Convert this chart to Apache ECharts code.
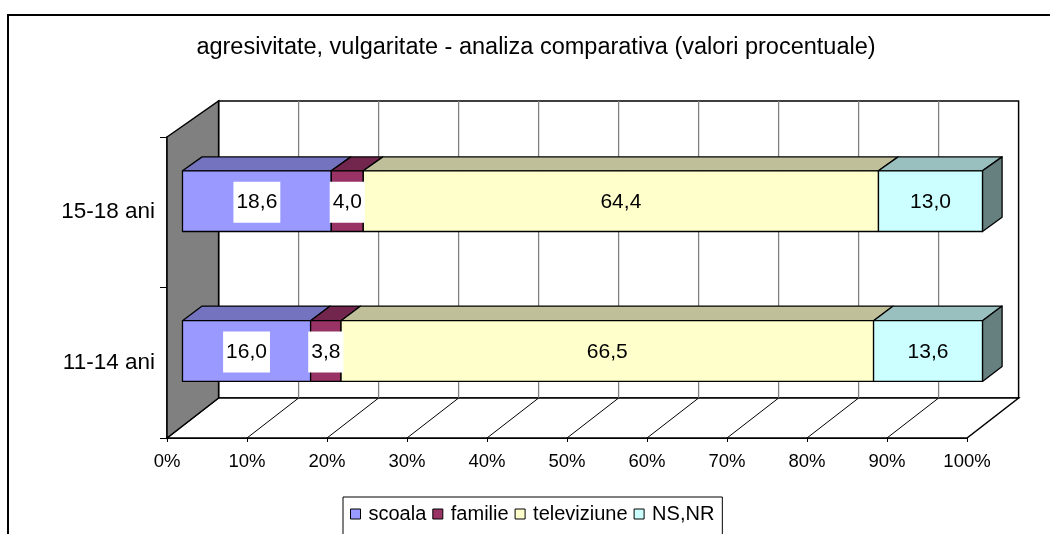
<!DOCTYPE html>
<html><head><meta charset="utf-8">
<script src="https://cdn.jsdelivr.net/npm/echarts@6/dist/echarts.min.js"></script>
<style>html,body{margin:0;padding:0;background:#fff}#c{width:1050px;height:534px}</style>
</head><body><div id="c"></div>
<script>
// ---- data ----
const categories = ['11-14 ani', '15-18 ani'];
const seriesNames = ['scoala', 'familie', 'televiziune', 'NS,NR'];
const scoala = [16.0, 18.6];
const familie = [3.8, 4.0];
const televiziune = [66.5, 64.4];
const nsnr = [13.6, 13.0];
const xTicks = [0, 10, 20, 30, 40, 50, 60, 70, 80, 90, 100];
const titleText = 'agresivitate, vulgaritate - analiza comparativa (valori procentuale)';

// ---- styles ----
const values = [scoala, familie, televiziune, nsnr];
const frontColors = ['#9999FF', '#993366', '#FFFFCC', '#CCFFFF'];
const topColors = ['#7373BF', '#73264D', '#BFBF99', '#99BFBF'];
const sideColors = ['#4D4D80', '#4D1A33', '#808066', '#668080'];
const labelBg = [true, true, false, false];
const FONT = "'Liberation Sans', Arial, sans-serif";
const DX = 51.6, DY_TOP = -36, DY_BOT = -40;
const T0 = 0.30, T1 = 0.68, BAR_FRAC = 0.405;

function projector(params, api) {
  const cs = params.coordSys;
  const top = cs.y, bot = cs.y + cs.height;
  const topB = top + DY_TOP, botB = bot + DY_BOT;
  return function (xv, yPix, t) {
    const x = api.coord([xv, 0])[0];
    const yBack = topB + (yPix - top) * (botB - topB) / (bot - top);
    return [x + DX * t, yPix + (yBack - yPix) * t];
  };
}

function renderFrame(params, api) {
  const P = projector(params, api);
  const cs = params.coordSys;
  const top = cs.y, bot = cs.y + cs.height;
  const xMin = xTicks[0], xMax = xTicks[xTicks.length - 1];
  const children = [];
  children.push({ type: 'polygon', shape: { points: [P(xMin, top, 1), P(xMax, top, 1), P(xMax, bot, 1), P(xMin, bot, 1)] },
    style: { fill: '#fff', stroke: '#000', lineWidth: 1.5 } });
  children.push({ type: 'polygon', shape: { points: [P(xMin, bot, 0), P(xMax, bot, 0), P(xMax, bot, 1), P(xMin, bot, 1)] },
    style: { fill: '#fff', stroke: '#000', lineWidth: 1.5 } });
  xTicks.forEach(function (v, i) {
    if (i === 0 || i === xTicks.length - 1) return;
    const a = P(v, top, 1), b = P(v, bot, 1);
    children.push({ type: 'line', shape: { x1: a[0], y1: a[1], x2: b[0], y2: b[1] }, style: { stroke: '#808080', lineWidth: 1.3 } });
    const c = P(v, bot, 0), d = P(v, bot, 1);
    children.push({ type: 'line', shape: { x1: c[0], y1: c[1], x2: d[0], y2: d[1] }, style: { stroke: '#000', lineWidth: 1 } });
  });
  children.push({ type: 'polygon', shape: { points: [P(xMin, top, 0), P(xMin, top, 1), P(xMin, bot, 1), P(xMin, bot, 0)] },
    style: { fill: '#808080', stroke: '#000', lineWidth: 1.5 } });
  return { type: 'group', children: children };
}

function fmt(v) { return v.toFixed(1).replace('.', ','); }

function makeBarRender(s) {
  return function (params, api) {
    const P = projector(params, api);
    const x0 = api.value(0), x1 = api.value(1), cat = api.value(2), val = api.value(3);
    const cy = api.coord([0, cat])[1];
    const hh = api.size([0, 1])[1] * BAR_FRAC / 2;
    const yT = cy - hh, yB = cy + hh;
    const st = { stroke: '#000', lineWidth: 1.3, lineJoin: 'round' };
    const children = [];
    children.push({ type: 'polygon', shape: { points: [P(x0, yT, T0), P(x1, yT, T0), P(x1, yT, T1), P(x0, yT, T1)] },
      style: Object.assign({ fill: topColors[s] }, st) });
    if (s === values.length - 1) {
      children.push({ type: 'polygon', shape: { points: [P(x1, yT, T0), P(x1, yT, T1), P(x1, yB, T1), P(x1, yB, T0)] },
        style: Object.assign({ fill: sideColors[s] }, st) });
    }
    children.push({ type: 'polygon', shape: { points: [P(x0, yT, T0), P(x1, yT, T0), P(x1, yB, T0), P(x0, yB, T0)] },
      style: Object.assign({ fill: frontColors[s] }, st) });
    const a = P((x0 + x1) / 2, cy, T0);
    children.push({ type: 'text', z2: 100, x: a[0], y: a[1] + 1,
      style: { text: fmt(val), align: 'center', verticalAlign: 'middle', fontSize: 21, fontFamily: FONT, fill: '#000',
        backgroundColor: labelBg[s] ? '#fff' : 'transparent', padding: labelBg[s] ? [10, 3, 10, 3] : 0 } });
    return { type: 'group', children: children };
  };
}

// stacked (100%) extents per category
const totals = categories.map(function (c, j) { return values.reduce(function (acc, arr) { return acc + arr[j]; }, 0); });
const cum = categories.map(function () { return 0; });
const barSeries = values.map(function (arr, s) {
  const data = arr.map(function (v, j) {
    const start = cum[j] / totals[j] * 100;
    cum[j] += v;
    const end = cum[j] / totals[j] * 100;
    return [start, end, j, v];
  });
  return {
    name: seriesNames[s], type: 'custom', coordinateSystem: 'cartesian2d', z: 3,
    itemStyle: { color: frontColors[s] },
    encode: { x: [0, 1], y: 2 },
    renderItem: makeBarRender(s),
    data: data
  };
});

const chart = echarts.init(document.getElementById('c'));
chart.setOption({
  animation: false,
  backgroundColor: '#fff',
  title: { text: titleText, left: 536, top: 36, textAlign: 'center', padding: 0,
    textStyle: { fontSize: 23.5, fontWeight: 'normal', color: '#000', fontFamily: FONT } },
  graphic: [{ type: 'rect', z: -10, shape: { x: 8, y: 15, width: 1100, height: 600 },
    style: { fill: 'transparent', stroke: '#000', lineWidth: 2 } }],
  legend: {
    data: seriesNames, left: 343, top: 497, orient: 'horizontal', icon: 'rect',
    itemWidth: 10, itemHeight: 10, itemGap: 6,
    itemStyle: { borderColor: '#000', borderWidth: 1 },
    borderColor: '#000', borderWidth: 1, padding: [7, 8, 20, 7],
    textStyle: { fontSize: 20, color: '#000', fontFamily: FONT, padding: [0, 0, 0, 3] }
  },
  grid: { left: 167, top: 137, width: 800, height: 301, containLabel: false },
  xAxis: {
    type: 'value', min: 0, max: 100, interval: 10,
    axisLine: { show: true, lineStyle: { color: '#000', width: 2 } },
    axisTick: { show: true, length: 4, lineStyle: { color: '#000' } },
    axisLabel: { formatter: '{value}%', fontSize: 18.5, color: '#000', margin: 14, fontFamily: FONT },
    splitLine: { show: false }
  },
  yAxis: {
    type: 'category', data: categories,
    axisLine: { show: true, lineStyle: { color: '#000', width: 1.5 } },
    axisTick: { show: true, length: 7, lineStyle: { color: '#000' } },
    axisLabel: { fontSize: 22.5, color: '#000', margin: 12, fontFamily: FONT },
    splitLine: { show: false }
  },
  series: [{
    name: 'frame', type: 'custom', coordinateSystem: 'cartesian2d', z: 1, silent: true,
    encode: { x: 0, y: 1 },
    renderItem: renderFrame,
    data: [[0, 0]]
  }].concat(barSeries)
});
</script>
</body></html>
